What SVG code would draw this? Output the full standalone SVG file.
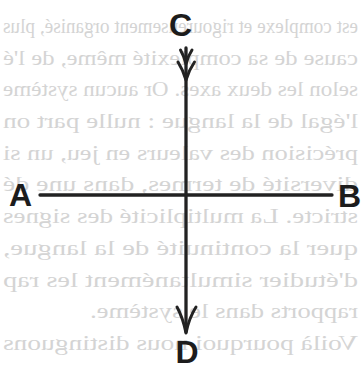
<svg xmlns="http://www.w3.org/2000/svg" width="361" height="367" viewBox="0 0 361 367">
  <style>
    .bg { font-family: "Liberation Serif", "DejaVu Serif", serif; font-size: 21px; fill: #d4d4d4; }
    .lbl { font-family: "Liberation Sans", Arial, sans-serif; font-size: 32px; font-weight: bold; fill: #1c1c1c; text-anchor: middle; }
    .ax { stroke: #222; stroke-width: 3.3; fill: none; stroke-linecap: round; stroke-linejoin: round; }
    .hd { stroke: #222; stroke-width: 3; fill: none; stroke-linecap: round; stroke-linejoin: round; }
  </style>
  <rect width="361" height="367" fill="#ffffff"/>
  <g id="show-through" transform="translate(361,0) scale(-1,1)">
    <text class="bg" x="3" y="33" textLength="355" lengthAdjust="spacingAndGlyphs">est complexe et rigoureusement organisé, plus</text>
    <text class="bg" x="3" y="65" textLength="355" lengthAdjust="spacingAndGlyphs">cause de sa complexité même, de l'é</text>
    <text class="bg" x="3" y="96" textLength="355" lengthAdjust="spacingAndGlyphs">selon les deux axes. Or aucun système</text>
    <text class="bg" x="3" y="128" textLength="355" lengthAdjust="spacingAndGlyphs">l'égal de la langue : nulle part on</text>
    <text class="bg" x="3" y="160" textLength="355" lengthAdjust="spacingAndGlyphs">précision des valeurs en jeu, un si</text>
    <text class="bg" x="3" y="191" textLength="355" lengthAdjust="spacingAndGlyphs">diversité de termes, dans une dé</text>
    <text class="bg" x="3" y="223" textLength="355" lengthAdjust="spacingAndGlyphs">stricte. La multiplicité des signes</text>
    <text class="bg" x="3" y="255" textLength="355" lengthAdjust="spacingAndGlyphs">quer la continuité de la langue,</text>
    <text class="bg" x="3" y="287" textLength="355" lengthAdjust="spacingAndGlyphs">d'étudier simultanément les rap</text>
    <text class="bg" x="3" y="318" textLength="268" lengthAdjust="spacingAndGlyphs">rapports dans le système.</text>
    <text class="bg" x="3" y="350" textLength="355" lengthAdjust="spacingAndGlyphs">Voilà pourquoi nous distinguons</text>
  </g>
  <g id="connectors">
    <line class="ax" x1="40" y1="195" x2="332" y2="195"/>
    <line class="ax" x1="186" y1="48" x2="186" y2="332"/>
    <path class="hd" d="M180.5,50 Q184,56 186,64 Q188,56 192,50"/>
    <path class="hd" d="M178,62 Q183,70 186,80 Q189,70 194.5,62"/>
    <path class="hd" d="M177,307 Q183,318 186,333 Q189,318 196,307"/>
  </g>
  <g id="node-C"><text class="lbl" x="180.5" y="36">C</text></g>
  <g id="node-A"><text class="lbl" x="20.5" y="206">A</text></g>
  <g id="node-B"><text class="lbl" x="349.5" y="207">B</text></g>
  <g id="node-D"><text class="lbl" x="187" y="363">D</text></g>
</svg>
